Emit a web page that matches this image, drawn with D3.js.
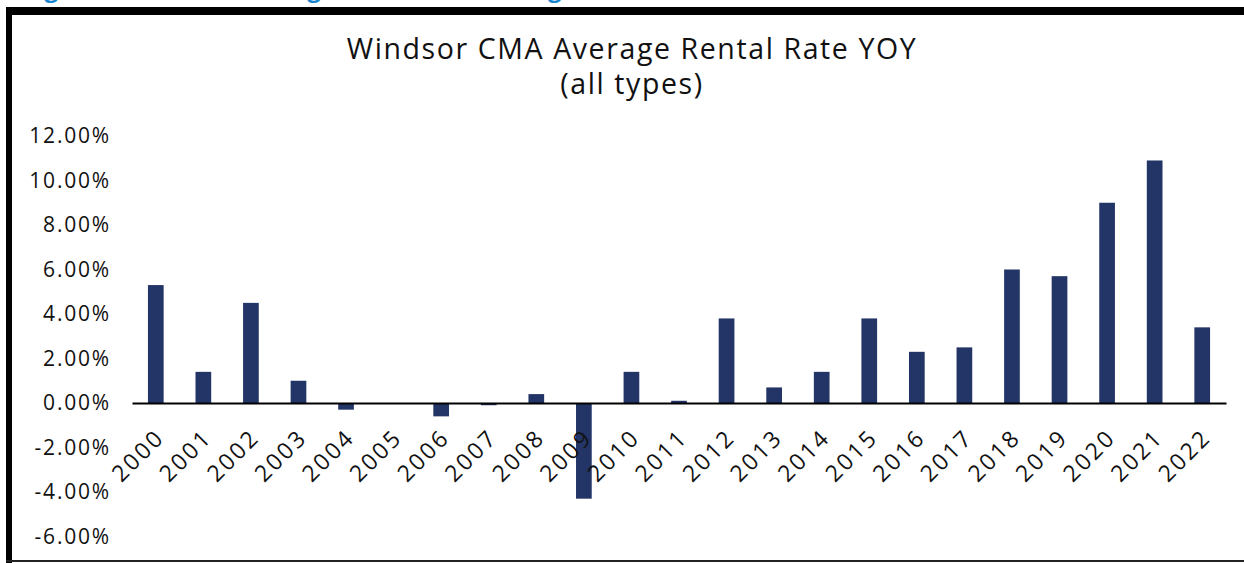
<!DOCTYPE html>
<html>
<head>
<meta charset="utf-8">
<script src="https://cdn.jsdelivr.net/npm/d3@7"></script>
<style>
  html, body { margin: 0; padding: 0; background: #fff; }
  svg { display: block; }
</style>
</head>
<body>
<div class="grafico"></div>
<script>
// Datos del grafico
var anios = ["2000", "2001", "2002", "2003", "2004", "2005", "2006", "2007", "2008", "2009", "2010", "2011",
             "2012", "2013", "2014", "2015", "2016", "2017", "2018", "2019", "2020", "2021", "2022"];
var variacion = [5.3, 1.4, 4.5, 1.0, -0.3, 0.0, -0.6, -0.1, 0.4, -4.3, 1.4, 0.1,
                 3.8, 0.7, 1.4, 3.8, 2.3, 2.5, 6.0, 5.7, 9.0, 10.9, 3.4];
var ticksY = [-6, -4, -2, 0, 2, 4, 6, 8, 10, 12];
var titulo = ["Windsor CMA Average Rental Rate YOY", "(all types)"];

var ancho = 1244, alto = 563;
var fuente = "'Open Sans', sans-serif";

var svg = d3.select(".grafico").append("svg")
    .attr("width", ancho)
    .attr("height", alto);

// Encabezado azul (solo se ve el borde inferior)
svg.append("text")
    .attr("x", 24)
    .attr("y", -3)
    .attr("fill", "#1a86d0")
    .attr("font-family", fuente)
    .attr("font-weight", 700)
    .attr("font-size", 24)
    .text("Figure 3: Windsor Average Rental Rate Change");

// Marco negro
svg.append("rect").attr("x", 6).attr("y", 7).attr("width", ancho - 6).attr("height", 8).attr("fill", "#000");
svg.append("rect").attr("x", 6).attr("y", 7).attr("width", 6).attr("height", alto - 7).attr("fill", "#000");
svg.append("rect").attr("x", 6).attr("y", 560).attr("width", ancho - 6).attr("height", 2).attr("fill", "#222");

// Escalas
var x = d3.scaleBand()
    .domain(anios)
    .range([132, 1226])
    .paddingInner(0.67)
    .paddingOuter(0.335);

var y = d3.scaleLinear()
    .domain([-6, 12])
    .range([536.5, 136]);

// Titulo
svg.selectAll("text.titulo")
    .data(titulo)
    .enter().append("text")
    .attr("class", "titulo")
    .attr("x", 632)
    .attr("y", function(d, i) { return 59 + i * 35; })
    .attr("text-anchor", "middle")
    .attr("font-family", fuente)
    .attr("font-size", 28.5)
    .attr("letter-spacing", 1.6)
    .attr("fill", "#111")
    .text(function(d) { return d; });

// Eje Y (solo etiquetas)
var ejeY = svg.append("g")
    .attr("transform", "translate(111,0)")
    .call(d3.axisLeft(y).tickValues(ticksY).tickSize(0).tickPadding(0)
        .tickFormat(function(d) { return d.toFixed(2) + "%"; }));
ejeY.select(".domain").remove();
ejeY.selectAll("text")
    .attr("font-family", fuente)
    .attr("font-size", 21)
    .attr("letter-spacing", 1.8)
    .attr("fill", "#111");

// Barras
svg.selectAll("rect.barra")
    .data(variacion)
    .enter().append("rect")
    .attr("class", "barra")
    .attr("x", function(d, i) { return x(anios[i]); })
    .attr("y", function(d) { return y(Math.max(0, d)); })
    .attr("width", x.bandwidth())
    .attr("height", function(d) { return Math.abs(y(d) - y(0)); })
    .attr("fill", "#233466");

// Eje X en cero
var ejeX = svg.append("g")
    .attr("transform", "translate(0," + y(0) + ")")
    .call(d3.axisBottom(x).tickSize(0).tickSizeOuter(0).tickPadding(0));
ejeX.select(".domain").attr("stroke", "#000").attr("stroke-width", 2);
ejeX.selectAll("text")
    .attr("font-family", fuente)
    .attr("font-size", 23)
    .attr("letter-spacing", 2.5)
    .attr("fill", "#111")
    .attr("text-anchor", "end")
    .attr("dy", 0)
    .attr("transform", "translate(10,36) rotate(-45)");
</script>
</body>
</html>
